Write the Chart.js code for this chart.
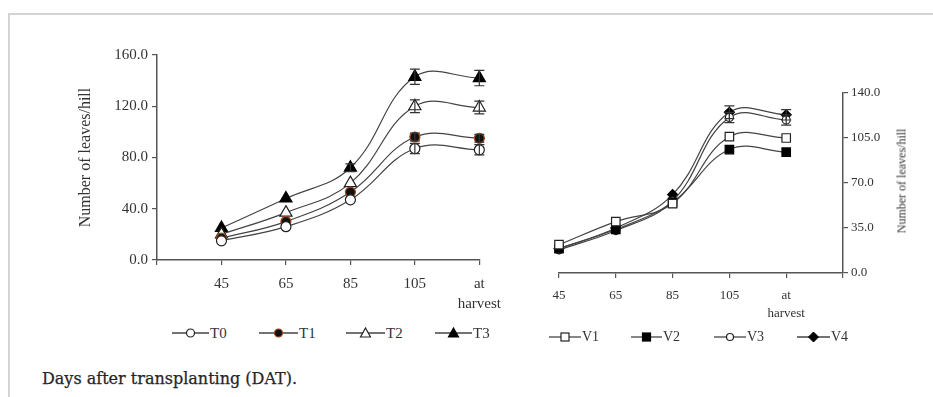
<!DOCTYPE html>
<html><head><meta charset="utf-8">
<script src="https://cdn.jsdelivr.net/npm/chart.js@4.4.0/dist/chart.umd.min.js"></script>
<style>
html,body{margin:0;padding:0;background:#fff;width:933px;height:397px;overflow:hidden;position:relative}
#frame{position:absolute;left:8px;top:13px;width:925px;height:384px;border-top:2px solid #d4d4d4;border-left:2px solid #d4d4d4;box-sizing:border-box}
canvas{position:absolute}
.leg{position:absolute;font-family:"Liberation Serif","Times New Roman",Tinos,Times,serif;color:#333;display:flex;align-items:center;white-space:nowrap;height:16px}
.leg svg{display:block}
#rtitle{position:absolute;font-family:"Liberation Serif","Times New Roman",Tinos,Times,serif;font-size:12px;color:#333;white-space:nowrap;transform-origin:center center;transform:translate(-50%,-50%) rotate(-90deg);left:902px;top:181px}
#caption{position:absolute;left:42px;top:369px;font-family:"DejaVu Serif",serif;font-size:16px;color:#252525;white-space:nowrap;-webkit-text-stroke:0.25px #252525}
</style></head>
<body>
<div id="frame"></div>
<canvas id="c1" width="440" height="280" style="left:70px;top:40px"></canvas>
<canvas id="c2" width="403" height="250" style="left:530px;top:80px"></canvas>
<div id="rtitle">Number of leaves/hill</div>
<div id="legend"></div>
<div id="caption">Days after transplanting (DAT).</div>
<script>
// ---- data ----
const days = ['45', '65', '85', '105', 'at harvest'];
const leftTicks = [0, 40, 80, 120, 160];
const rightTicks = [0, 35, 70, 105, 140];
const T0 = [15, 26, 47, 87, 86];
const T1 = [17, 30, 53, 96, 95];
const T2 = [20, 37, 60, 120, 119];
const T3 = [25, 48, 72, 143, 142];
const T0err = [0, 0, 0, 4, 4];
const T1err = [0, 0, 0, 3, 3];
const T2err = [0, 0, 0, 5, 5];
const T3err = [0, 0, 3, 6, 6];
const V1 = [22, 40, 54, 106, 105];
const V2 = [19, 34, 55, 96, 94];
const V3 = [18, 33, 56, 121, 119];
const V4 = [19, 35, 61, 125, 123];
const V1err = [0, 0, 0, 0, 0];
const V2err = [0, 0, 0, 0, 0];
const V3err = [0, 0, 0, 4, 4];
const V4err = [0, 0, 0, 5, 4];

const LINE = '#444';
const serif = '"Liberation Serif", "Times New Roman", Tinos, Times, serif';

const errorBars = {
  id: 'errorBars',
  afterDatasetsDraw(chart) {
    const ctx = chart.ctx, xs = chart.scales.x, ys = chart.scales.y;
    chart.data.datasets.forEach(ds => {
      if (!ds.err) return;
      ds.err.forEach((e, i) => {
        const v = ds.data[i];
        if (!e || v == null) return;
        const x = xs.getPixelForValue(i);
        const y1 = ys.getPixelForValue(v - e), y2 = ys.getPixelForValue(v + e);
        ctx.save();
        ctx.strokeStyle = '#333'; ctx.lineWidth = 1.2;
        ctx.beginPath();
        ctx.moveTo(x, y1); ctx.lineTo(x, y2);
        ctx.moveTo(x - 5, y1); ctx.lineTo(x + 5, y1);
        ctx.moveTo(x - 5, y2); ctx.lineTo(x + 5, y2);
        ctx.stroke();
        ctx.restore();
      });
    });
  }
};

function ds(label, data, err, style, fill, border, r, pad) {
  const d = pad === 'left' ? [null, ...data] : [...data, null];
  const e = pad === 'left' ? [0, ...err] : [...err, 0];
  return {
    label, data: d, err: e,
    borderColor: LINE, borderWidth: 1.2, tension: 0.4,
    pointStyle: style, pointRadius: r, pointBackgroundColor: fill,
    pointBorderColor: border, pointBorderWidth: 1.2, fill: false
  };
}

const lblCb = function (v) {
  const l = this.getLabelForValue(v);
  return l === 'at harvest' ? ['at', 'harvest'] : l;
};

Chart.defaults.animation = false;
Chart.defaults.font.family = serif;
Chart.defaults.color = '#333';

new Chart(document.getElementById('c1'), {
  type: 'line',
  data: {
    labels: ['', ...days],
    datasets: [
      ds('T0', T0, T0err, 'circle', '#fff', '#222', 5, 'left'),
      ds('T1', T1, T1err, 'circle', '#111', '#a3471b', 5, 'left'),
      ds('T2', T2, T2err, 'triangle', '#fff', '#222', 7, 'left'),
      ds('T3', T3, T3err, 'triangle', '#000', '#000', 7, 'left')
    ]
  },
  options: {
    responsive: false, devicePixelRatio: 1,
    layout: { padding: { left: 0, right: 30, top: 15, bottom: 0 } },
    plugins: { legend: { display: false }, tooltip: { enabled: false } },
    scales: {
      x: {
        offset: false,
        grid: { drawOnChartArea: false, tickLength: 5, color: '#555', lineWidth: 1.2 },
        border: { color: '#555', width: 1.5 },
        ticks: { callback: lblCb, font: { size: 15, lineHeight: 1.35 }, padding: 9, maxRotation: 0, autoSkip: false },
        afterFit: s => { s.height = 60; }
      },
      y: {
        min: 0, max: 160,
        afterBuildTicks: s => { s.ticks = leftTicks.map(v => ({ value: v })); },
        grid: { drawOnChartArea: false, tickLength: 5, color: '#555', lineWidth: 1.2 },
        border: { color: '#555', width: 1.5 },
        ticks: { callback: v => v.toFixed(1), font: { size: 15 }, padding: 4 },
        title: { display: true, text: 'Number of leaves/hill', font: { size: 16 }, padding: { top: 6, bottom: 0 } },
        afterFit: s => { s.width = 87; }
      }
    }
  },
  plugins: [errorBars]
});

new Chart(document.getElementById('c2'), {
  type: 'line',
  data: {
    labels: [...days, ''],
    datasets: [
      ds('V1', V1, V1err, 'rect', '#fff', '#222', 6, 'right'),
      ds('V2', V2, V2err, 'rect', '#000', '#000', 6, 'right'),
      ds('V3', V3, V3err, 'circle', '#fff', '#222', 4, 'right'),
      ds('V4', V4, V4err, 'rectRot', '#000', '#000', 5, 'right')
    ]
  },
  options: {
    responsive: false, devicePixelRatio: 1,
    layout: { padding: { left: 29, right: 0, top: 13, bottom: 0 } },
    plugins: { legend: { display: false }, tooltip: { enabled: false } },
    scales: {
      x: {
        offset: false,
        grid: { drawOnChartArea: false, tickLength: 5, color: '#555', lineWidth: 1.2 },
        border: { color: '#555', width: 1.5 },
        ticks: { callback: lblCb, font: { size: 13, lineHeight: 1.4 }, padding: 8, maxRotation: 0, autoSkip: false },
        afterFit: s => { s.height = 57; }
      },
      y: {
        position: 'right',
        min: 0, max: 140,
        afterBuildTicks: s => { s.ticks = rightTicks.map(v => ({ value: v })); },
        grid: { drawOnChartArea: false, tickLength: 5, color: '#555', lineWidth: 1.2 },
        border: { color: '#555', width: 1.5 },
        ticks: { callback: v => v.toFixed(1), font: { size: 13 }, padding: 3 },
        afterFit: s => { s.width = 90; }
      }
    }
  },
  plugins: [errorBars]
});

// ---- HTML legends ----
function sym(style, fill, stroke, w) {
  const c = w / 2;
  let m = '';
  if (style === 'circle') m = `<circle cx="${c}" cy="8" r="4" fill="${fill}" stroke="${stroke}" stroke-width="1.2"/>`;
  if (style === 'scircle') m = `<circle cx="${c}" cy="8" r="3.5" fill="${fill}" stroke="${stroke}" stroke-width="1.2"/>`;
  if (style === 'triangle') m = `<polygon points="${c},3 ${c + 5},12 ${c - 5},12" fill="${fill}" stroke="${stroke}" stroke-width="1.2"/>`;
  if (style === 'rect') m = `<rect x="${c - 4}" y="4" width="8" height="8" fill="${fill}" stroke="${stroke}" stroke-width="1.2"/>`;
  if (style === 'diamond') m = `<polygon points="${c},3 ${c + 5},8 ${c},13 ${c - 5},8" fill="${fill}" stroke="${stroke}" stroke-width="1"/>`;
  return `<svg width="${w}" height="16"><line x1="0" y1="8" x2="${w}" y2="8" stroke="#444" stroke-width="1.3"/>${m}</svg>`;
}
const legItems = [
  { t: 'T0', s: 'circle', f: '#fff', k: '#222', x: 172, y: 325, w: 37, fs: 15 },
  { t: 'T1', s: 'circle', f: '#111', k: '#a3471b', x: 259, y: 325, w: 39, fs: 15 },
  { t: 'T2', s: 'triangle', f: '#fff', k: '#222', x: 346, y: 325, w: 39, fs: 15 },
  { t: 'T3', s: 'triangle', f: '#000', k: '#000', x: 435, y: 325, w: 37, fs: 15 },
  { t: 'V1', s: 'rect', f: '#fff', k: '#222', x: 549, y: 329, w: 32, fs: 14 },
  { t: 'V2', s: 'rect', f: '#000', k: '#000', x: 631, y: 329, w: 31, fs: 14 },
  { t: 'V3', s: 'scircle', f: '#fff', k: '#222', x: 714, y: 329, w: 32, fs: 14 },
  { t: 'V4', s: 'diamond', f: '#000', k: '#000', x: 797, y: 329, w: 33, fs: 14 }
];
document.getElementById('legend').innerHTML = legItems.map(it =>
  `<div class="leg" style="left:${it.x}px;top:${it.y}px;font-size:${it.fs}px">${sym(it.s, it.f, it.k, it.w)}<span style="margin-left:1px">${it.t}</span></div>`
).join('');
</script>
</body></html>
